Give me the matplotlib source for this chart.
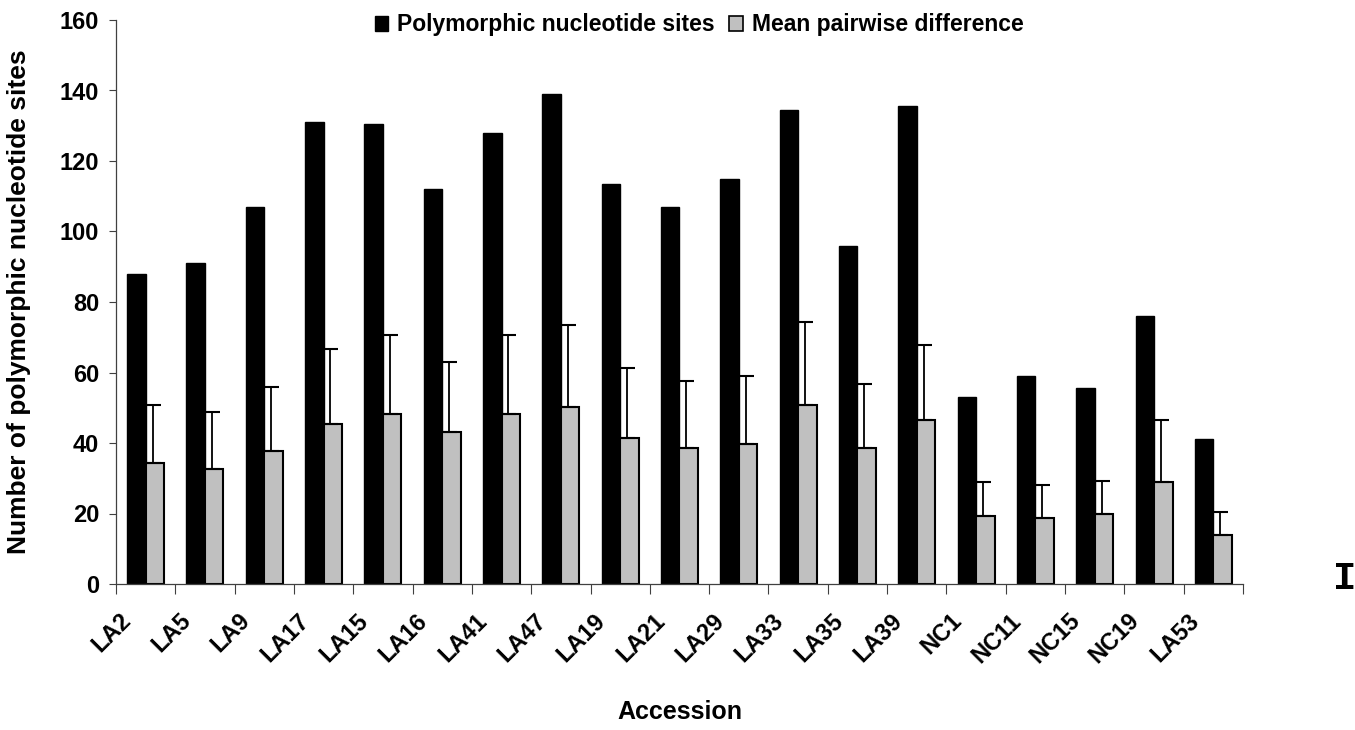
import matplotlib
matplotlib.use("Agg")
import matplotlib.pyplot as plt
import matplotlib.transforms as mtransforms
from matplotlib.patches import Patch
import numpy as np

# Accessions and their diversity statistics
accessions = ["LA2", "LA5", "LA9", "LA17", "LA15", "LA16", "LA41", "LA47", "LA19",
              "LA21", "LA29", "LA33", "LA35", "LA39", "NC1", "NC11", "NC15", "NC19", "LA53"]
poly_sites = [88, 91, 107, 131, 130.5, 112, 128, 139, 113.5, 107, 115, 134.5, 96, 135.5,
              53, 59, 55.5, 76, 41]
mean_pairwise = [34.3, 32.7, 37.6, 45.4, 48.1, 43.1, 48.1, 50.3, 41.5, 38.7, 39.8, 50.8,
                 38.7, 46.4, 19.4, 18.8, 19.9, 28.8, 13.8]
pairwise_sd = [16.5, 16.0, 18.2, 21.4, 22.6, 19.9, 22.6, 23.2, 19.9, 18.8, 19.3, 23.6,
               18.1, 21.5, 9.4, 9.3, 9.4, 17.6, 6.6]
y_ticks = [0, 20, 40, 60, 80, 100, 120, 140, 160]

FONT = "Liberation Sans"
GREY = "#C0C0C0"

W, H = 1355, 730
fig = plt.figure(figsize=(W / 100, H / 100), dpi=100)
ax = fig.add_axes([116 / W, 1 - 584 / H, (1243 - 116) / W, (584 - 20) / H])

x = np.arange(len(accessions))
bw = 0.312
ax.bar(x - bw / 2, poly_sites, width=bw, color="black", edgecolor="black",
       linewidth=1.0, zorder=2)
ax.bar(x + bw / 2, mean_pairwise, width=bw, color=GREY, edgecolor="black",
       linewidth=1.5, zorder=2)
ax.errorbar(x + bw / 2 - 0.04, mean_pairwise,
            yerr=[np.zeros(len(pairwise_sd)), pairwise_sd],
            fmt="none", ecolor="black", elinewidth=1.3, capsize=6, capthick=1.5, zorder=3)

ax.set_xlim(-0.5, len(accessions) - 0.5)
ax.set_ylim(0, 160)
ax.set_yticks(y_ticks)
ax.set_yticklabels([str(v) for v in y_ticks], fontfamily=FONT, fontweight="bold",
                   fontsize=17)
ax.tick_params(axis="y", direction="out", length=5, width=0.8, pad=7, color="#404040")

# category boundaries carry the tick marks, centres carry the labels
ax.set_xticks(np.arange(-0.5, len(accessions), 1.0))
ax.set_xticklabels([])
ax.set_xticks(x, minor=True)
ax.set_xticklabels(accessions, minor=True, rotation=45, ha="right", va="top",
                   fontfamily=FONT, fontweight="bold", fontsize=17)
ax.tick_params(axis="x", which="major", direction="out", length=7, width=0.8, color="#404040")
ax.tick_params(axis="x", which="minor", length=0, pad=18)
shift = mtransforms.ScaledTranslation(-10 / 100, 0, fig.dpi_scale_trans)
for lab in ax.get_xticklabels(minor=True):
    lab.set_transform(lab.get_transform() + shift)

for s in ["top", "right"]:
    ax.spines[s].set_visible(False)
for s in ["left", "bottom"]:
    ax.spines[s].set_color("#404040")
    ax.spines[s].set_linewidth(0.9)

ax.set_ylabel("Number of polymorphic nucleotide sites", fontfamily=FONT,
              fontweight="bold", fontsize=19)
ax.yaxis.set_label_coords(-0.075, 0.5)
ax.set_xlabel("Accession", fontfamily=FONT, fontweight="bold", fontsize=18)
ax.xaxis.set_label_coords(0.5, -0.205)

handles = [Patch(facecolor="black", edgecolor="black", linewidth=1.0),
           Patch(facecolor=GREY, edgecolor="black", linewidth=1.2)]
fig.legend(handles, ["Polymorphic nucleotide sites", "Mean pairwise difference"],
           loc="center", bbox_to_anchor=(699 / W, 1 - 25 / H), ncol=2, frameon=False,
           handlelength=0.6, handleheight=0.6, handletextpad=0.4, columnspacing=0.6,
           borderpad=0, prop={"family": FONT, "weight": "bold", "size": 16.5})

fig.text(1344.5 / W, 1 - 589 / H, "I", ha="center", va="baseline",
         fontfamily="Liberation Mono", fontweight="bold", fontsize=28)

fig.savefig("out.png", dpi=100)
